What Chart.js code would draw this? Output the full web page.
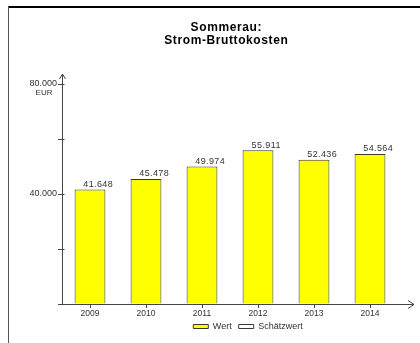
<!DOCTYPE html>
<html><head><meta charset="utf-8">
<script src="https://cdn.jsdelivr.net/npm/chart.js@4/dist/chart.umd.min.js"></script>
<style>html,body{margin:0;padding:0;background:#fff}#wrap{width:420px;height:343px}</style>
</head><body><div id="wrap"><canvas id="c" width="420" height="343"></canvas></div>
<script>
const titleLines = ['Sommerau:', 'Strom-Bruttokosten'];
const categories = ['2009', '2010', '2011', '2012', '2013', '2014'];
const wertValues = [41648, 45478, 49974, 55911, 52436, 54564];
const schaetzValues = [null, null, null, null, null, null];
const yTickLabels = {40000: '40.000', 80000: '80.000'};
const yUnit = 'EUR';
const seriesNames = ['Wert', 'Schätzwert'];

const FONT = '"Liberation Sans", Arial, sans-serif';
const fmt = v => String(v).replace(/\B(?=(\d{3})+(?!\d))/g, '.');

const decor = {
  id: 'decor',
  afterLayout(chart) {
    const lg = chart.legend;
    if (lg) { lg.left += 49; lg.right += 49; lg.top -= 2; lg.bottom -= 2; }
  },
  beforeDraw(chart) {
    const ctx = chart.ctx;
    ctx.save();
    ctx.fillStyle = '#000';
    ctx.fillRect(8, 6, 412, 2);
    ctx.fillStyle = '#555';
    ctx.fillRect(8, 6, 1, 337);
    ctx.restore();
  },
  afterDraw(chart) {
    const ctx = chart.ctx;
    const y = chart.scales.y;
    const ca = chart.chartArea;
    ctx.save();
    // title
    ctx.fillStyle = '#000';
    ctx.font = 'bold 12px ' + FONT;
    ctx.letterSpacing = '0.6px';
    ctx.textAlign = 'center';
    ctx.textBaseline = 'middle';
    ctx.fillText(titleLines[0], 226.3, 27.5);
    ctx.fillText(titleLines[1], 226.3, 40.5);
    ctx.letterSpacing = '0px';
    // axis extensions with arrows
    ctx.strokeStyle = '#444';
    ctx.lineWidth = 1;
    const ax = Math.round(ca.left) + 0.5, ay = Math.round(ca.bottom) + 0.5;
    const top = y.getPixelForValue(80000);
    ctx.beginPath();
    ctx.moveTo(ax, top); ctx.lineTo(ax, top - 10);
    ctx.moveTo(ax - 3, top - 5); ctx.lineTo(ax, top - 10); ctx.lineTo(ax + 3, top - 5);
    ctx.moveTo(ca.right, ay); ctx.lineTo(ca.right + 16, ay);
    ctx.moveTo(ca.right + 10, ay - 4); ctx.lineTo(ca.right + 16, ay); ctx.lineTo(ca.right + 10, ay + 4);
    // tick marks crossing axis
    [20000, 40000, 60000, 80000].forEach(v => {
      const py = Math.round(y.getPixelForValue(v)) + 0.5;
      ctx.moveTo(ax, py); ctx.lineTo(ax + 2, py);
    });
    ctx.stroke();
    // unit
    ctx.fillStyle = '#333';
    ctx.font = '8px ' + FONT;
    ctx.textAlign = 'center';
    ctx.fillText(yUnit, 44, top + 8.5);
    // value labels
    ctx.font = '9px ' + FONT;
    ctx.letterSpacing = '0.4px';
    const meta = chart.getDatasetMeta(0);
    ctx.textBaseline = 'alphabetic';
    meta.data.forEach((bar, i) => {
      ctx.fillText(fmt(wertValues[i]), bar.x + 8.2, bar.y - 2.5);
    });
    ctx.restore();
  }
};

new Chart(document.getElementById('c'), {
  type: 'bar',
  data: {
    labels: categories,
    datasets: [
      { label: seriesNames[0], data: wertValues, backgroundColor: '#FFFF00', borderColor: '#3a3a20', borderWidth: 1, barPercentage: 0.55, categoryPercentage: 1 },
      { label: seriesNames[1], data: schaetzValues, backgroundColor: '#FFFFFF', borderColor: '#3a3a3a', borderWidth: 1, barPercentage: 0.55, categoryPercentage: 1 }
    ]
  },
  options: {
    responsive: false,
    animation: false,
    devicePixelRatio: 1,
    datasets: { bar: { grouped: false } },
    layout: { padding: { left: 0, right: 22, top: 84, bottom: 0 } },
    plugins: {
      title: { display: false },
      tooltip: { enabled: false },
      legend: {
        display: true,
        position: 'bottom',
        labels: {
          boxWidth: 15, boxHeight: 4, padding: 7,
          color: '#333',
          font: { family: FONT, size: 9 }
        }
      }
    },
    scales: {
      x: {
        grid: { drawOnChartArea: false, drawTicks: true, tickLength: 4, color: '#444', offset: false },
        border: { display: true, color: '#444' },
        ticks: { color: '#333', font: { family: FONT, size: 8.5 }, padding: 1, maxRotation: 0 },
        afterFit(s) { s.height = 13; }
      },
      y: {
        min: 0, max: 80000,
        grid: { drawOnChartArea: false, drawTicks: true, tickLength: 4, color: '#444' },
        border: { display: true, color: '#444' },
        ticks: { stepSize: 20000, color: '#333', font: { family: FONT, size: 9 }, padding: 1,
          callback: v => yTickLabels[v] || '' },
        afterFit(s) { s.width = 62; }
      }
    }
  },
  plugins: [decor]
});
</script></body></html>
